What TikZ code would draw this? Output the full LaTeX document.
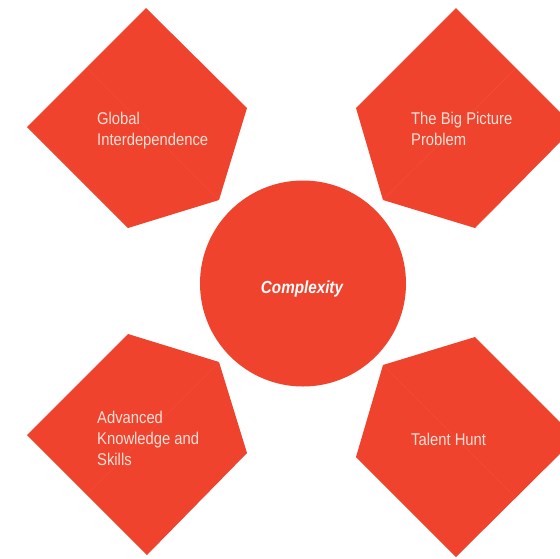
\documentclass[tikz,border=0pt]{standalone}
\usepackage{fontspec}
\setmainfont{Liberation Sans}[FakeStretch=0.87]
\definecolor{shapered}{RGB}{239,67,45}
\definecolor{seam}{RGB}{242,84,64}
\definecolor{labeltext}{RGB}{251,224,216}
\begin{document}
\begin{tikzpicture}[x=1pt,y=-1pt,
  petal/.style={fill=shapered,draw=none},
  seamline/.style={draw=seam,line width=0.3pt},
  label/.style={anchor=north west,inner sep=0pt,align=left,text=labeltext,
    font=\fontsize{17}{21}\selectfont},
  hub/.style={circle,fill=shapered,draw=none,minimum size=206pt,inner sep=0pt}]
\useasboundingbox (0,0) rectangle (560,558);
\clip (0,0) rectangle (560,558);
% top-left
\path[petal] (146,8) -- (247,108) -- (219,200) -- (128,228) -- (27,127) -- cycle;
\coordinate (tla) at (87,68); \coordinate (tlb) at (219,200);
\draw[seamline] (tla) -- (tlb);
% top-right
\path[petal] (456,8) -- (575,127) -- (475,228) -- (383,200) -- (356,108) -- cycle;
\coordinate (tra) at (515,69); \coordinate (trb) at (383,200);
\draw[seamline] (tra) -- (trb);
% bottom-left
\path[petal] (128,334) -- (219,362) -- (247,453) -- (147,555) -- (27,435) -- cycle;
\coordinate (bla) at (219,362); \coordinate (blb) at (88,493);
\draw[seamline] (bla) -- (blb);
% bottom-right
\path[petal] (475,337) -- (576,438) -- (456,557) -- (356,457) -- (383,365) -- cycle;
\coordinate (bra) at (383,365); \coordinate (brb) at (515,497);
\draw[seamline] (bra) -- (brb);
% centre
\node[hub] (hub) at (303,283.5) {};
\node[anchor=base,inner sep=0pt,text=white,font=\fontsize{17.5}{21}\selectfont\bfseries\itshape] (cx) at (302,293) {Complexity};
% labels
\node[label] (gi) at (97,111.6) {Global\\Interdependence};
\node[label] (bp) at (411,111.6) {The Big Picture\\Problem};
\node[label] (ak) at (97,410.6) {Advanced\\Knowledge and\\Skills};
\node[label] (th) at (411,432.6) {Talent Hunt};
\end{tikzpicture}
\end{document}
